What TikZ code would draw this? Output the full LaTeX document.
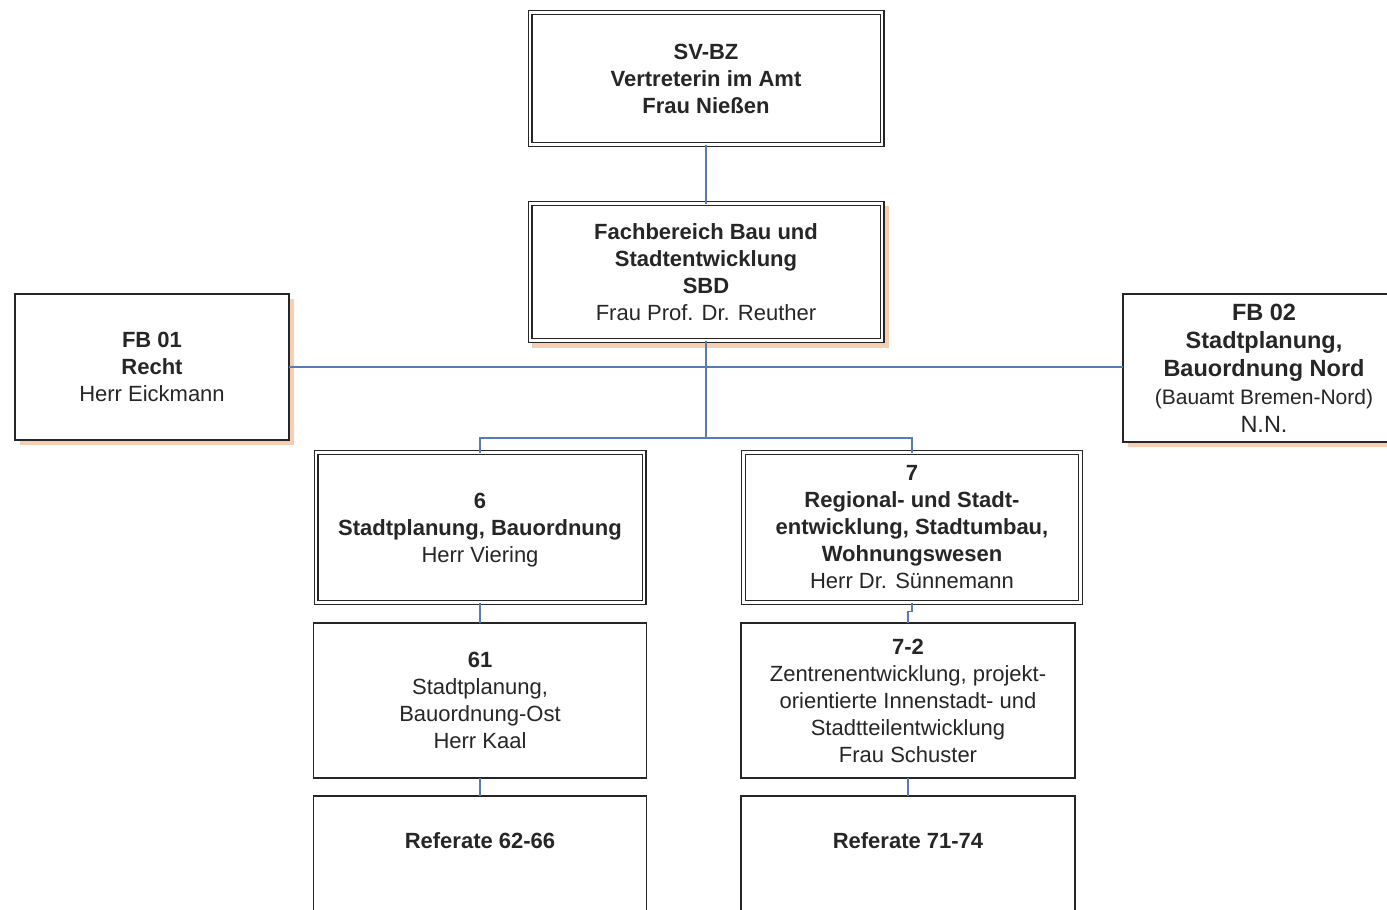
\documentclass[tikz,border=0pt]{standalone}
\usepackage{fontspec}
\setmainfont{Liberation Sans}
\begin{document}
\begin{tikzpicture}[x=1pt,y=-1pt,
  every node/.style={inner sep=0pt, outer sep=0pt},
  txt/.style={align=center, font=\fontsize{22}{27}\selectfont, text=black!85},
  box/.style={txt, draw=black!85, line width=1.4pt, fill=white, rectangle},
  dbox/.style={txt, draw=black!85, line width=1.3pt, double=white, double distance=2.4pt, fill=white, rectangle},
  conn/.style={draw=connc, line width=1.4pt}]
\definecolor{shadowc}{RGB}{246,206,178}
\definecolor{connc}{RGB}{88,124,176}
\useasboundingbox (0,0) rectangle (1387,910);
\clip (0,0) rectangle (1387,910);
\fill[white] (0,0) rectangle (1387,910);

% shadows
\fill[shadowc] (532,206) rectangle (889,348);
\fill[shadowc] (20,299) rectangle (294,445);
\fill[shadowc] (1128,299) rectangle (1410,447);

% boxes
\node[dbox, minimum width=352, minimum height=132] (sv) at (706,78.5)
  {\textbf{SV-BZ}\\\textbf{Vertreterin im Amt}\\\textbf{Frau Nießen}};
\node[dbox, minimum width=352, minimum height=137] (fb) at (706,272)
  {\textbf{Fachbereich Bau und}\\\textbf{Stadtentwicklung}\\\textbf{SBD}\\Frau Prof. Dr. Reuther};
\node[box, minimum width=274, minimum height=146] (fb01) at (152,367)
  {\textbf{FB 01}\\\textbf{Recht}\\Herr Eickmann};
\node[box, minimum width=282, minimum height=148, font=\fontsize{23.5}{28}\selectfont] (fb02) at (1264,368)
  {\textbf{FB 02}\\\textbf{Stadtplanung,}\\\textbf{Bauordnung Nord}\\{\fontsize{21}{28}\selectfont(Bauamt Bremen-Nord)}\\N.N.};
\node[dbox, minimum width=328, minimum height=150] (b6) at (480,527.5) {};
\node[txt] (b6t) at (480,530.5)
  {\textbf{6}\\\textbf{Stadtplanung, Bauordnung}\\Herr Viering};
\node[dbox, minimum width=337, minimum height=150] (b7) at (912,527.5)
  {\textbf{7}\\\textbf{Regional- und Stadt-}\\\textbf{entwicklung, Stadtumbau,}\\\textbf{Wohnungswesen}\\Herr Dr. Sünnemann};
\node[box, minimum width=333, minimum height=155] (b61) at (480,700.5)
  {\textbf{61}\\Stadtplanung,\\Bauordnung-Ost\\Herr Kaal};
\node[box, minimum width=334, minimum height=155] (b72) at (908,700.5)
  {\textbf{7-2}\\Zentrenentwicklung, projekt-\\orientierte Innenstadt- und\\Stadtteilentwicklung\\Frau Schuster};
\node[box, minimum width=333, minimum height=155] (r1) at (480,873.5) {};
\node[txt] (r1t) at (480,841) {\textbf{Referate 62-66}};
\node[box, minimum width=334, minimum height=155] (r2) at (908,873.5) {};
\node[txt] (r2t) at (908,841) {\textbf{Referate 71-74}};

% connectors
\coordinate (j) at (706,438);
\draw[conn] (sv.south) -- (fb.north);
\draw[conn] (fb01.east) -- (fb01.east -| fb02.west);
\draw[conn] (fb.south) -- (j);
\draw[conn] (j) -| (b6.north);
\draw[conn] (j) -| (b7.north);
\draw[conn] (b6.south) -- (b61.north);
\draw[conn] (b61.south) -- (r1.north);
\draw[conn] (b7.south) -- ++(0,9) -| (b72.north);
\draw[conn] (b72.south) -- (r2.north);
\end{tikzpicture}
\end{document}
